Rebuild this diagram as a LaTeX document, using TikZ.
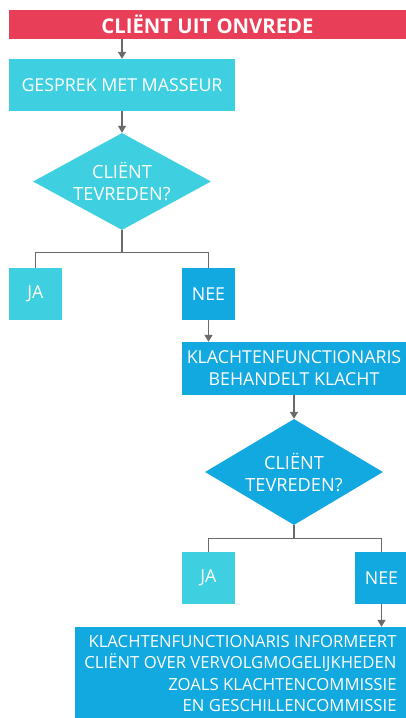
\documentclass[tikz,border=0pt]{standalone}
\usepackage{fontspec}
\setmainfont{Open Sans}
\usetikzlibrary{shapes.geometric,arrows.meta}
\definecolor{rood}{RGB}{232,62,88}
\definecolor{licht}{RGB}{62,208,224}
\definecolor{donker}{RGB}{18,168,224}
\definecolor{lijn}{RGB}{105,105,110}
\begin{document}
\begin{tikzpicture}[x=1pt,y=-1pt,
    box/.style={rectangle,inner sep=0pt,text=white,align=center,
      font=\fontsize{17.8}{22}\selectfont},
    ruit/.style={diamond,aspect=1.8,inner sep=0pt,text=white,align=center,
      minimum width=178pt,font=\fontsize{18.2}{22}\selectfont},
    pijl/.style={draw=lijn,line width=1.4pt,-{Triangle[width=8pt,length=7pt]}},
    tak/.style={draw=lijn,line width=1.4pt}]
  \useasboundingbox (0,0) rectangle (406,718);
  \draw
    (207.5,24.5) node[box,fill=rood,minimum width=397pt,minimum height=29pt,
      font=\fontsize{20.3}{22}\selectfont\bfseries] (titel){CLIËNT UIT ONVREDE}
    (122,85) node[box,fill=licht,minimum width=226pt,minimum height=52pt] (gesprek){GESPREK MET MASSEUR}
    (122,181.5) node[ruit,fill=licht,minimum height=97pt] (vraag1){CLIËNT\\TEVREDEN?}
    (35.5,294) node[box,fill=licht,minimum width=53pt,minimum height=52pt] (ja1){JA}
    (208.5,294) node[box,fill=donker,minimum width=53pt,minimum height=52pt] (nee1){NEE}
    (294,368.5) node[box,fill=donker,minimum width=224pt,minimum height=53pt] (klacht){KLACHTENFUNCTIONARIS\\BEHANDELT KLACHT}
    (294,472) node[ruit,fill=donker,minimum height=106pt] (vraag2){CLIËNT\\TEVREDEN?}
    (208.5,578) node[box,fill=licht,minimum width=53pt,minimum height=52pt] (ja2){JA}
    (381.5,578) node[box,fill=donker,minimum width=53pt,minimum height=52pt] (nee2){NEE}
    (240.5,673.5) node[box,fill=donker,minimum width=331pt,minimum height=93pt,
      align=right,font=\fontsize{16.7}{21.5}\selectfont] (info){KLACHTENFUNCTIONARIS INFORMEERT\\CLIËNT OVER VERVOLGMOGELIJKHEDEN\\ZOALS KLACHTENCOMMISSIE\\EN GESCHILLENCOMMISSIE};
  \begin{scope}[pijl]
    \draw (gesprek.north |- titel.south) to (gesprek.north);
    \draw (gesprek) to (vraag1);
    \draw (nee1.south) to (nee1.south |- klacht.north);
    \draw (klacht) to (vraag2);
    \draw (nee2.south) to (nee2.south |- info.north);
  \end{scope}
  \begin{scope}[tak]
    \draw (vraag1.south) -- ++(0,22) -| (ja1.north);
    \draw (vraag1.south) -- ++(0,22) -| (nee1.north);
    \draw (vraag2.south) -- ++(0,13) -| (ja2.north);
    \draw (vraag2.south) -- ++(0,13) -| (nee2.north);
  \end{scope}
\end{tikzpicture}
\end{document}
